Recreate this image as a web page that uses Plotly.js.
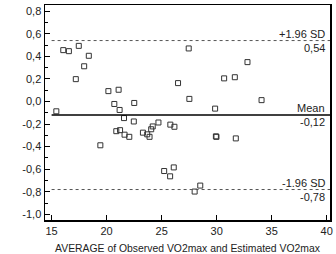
<!DOCTYPE html>
<html>
<head>
<meta charset="utf-8">
<script src="https://cdn.plot.ly/plotly-3.0.1.min.js"></script>
<style>
  html, body { margin: 0; padding: 0; background: #fff; }
  #chart { width: 336px; height: 254px; }
</style>
</head>
<body>
<div id="chart"></div>
<script>
// Bland-Altman plot: mean of the two methods vs. their difference
const avgVO2 = [
  15.43, 16.06, 16.57, 17.47, 18.38, 17.96, 17.20, 20.16, 21.09, 20.70,
  22.51, 21.18, 21.58, 22.47, 20.88, 21.22, 21.63, 22.06, 23.30, 19.43,
  24.71, 24.19, 24.05, 23.69, 23.90, 25.79, 26.16, 29.93, 31.74, 26.10,
  25.23, 25.77, 28.51, 28.00, 27.46, 26.49, 30.68, 31.65, 27.52, 29.86,
  32.80, 34.08, 29.98
];
const diffVO2 = [
  -0.087, 0.455, 0.446, 0.493, 0.405, 0.312, 0.198, 0.092, 0.104, -0.022,
  -0.013, -0.075, -0.147, -0.177, -0.263, -0.254, -0.294, -0.313, -0.276, -0.388,
  -0.186, -0.221, -0.246, -0.291, -0.313, -0.205, -0.224, -0.309, -0.327, -0.584,
  -0.616, -0.663, -0.745, -0.798, 0.470, 0.163, 0.205, 0.215, 0.023, -0.063,
  0.349, 0.012, -0.313
];

// Reference lines: mean difference and limits of agreement
const meanDiff = -0.12;
const upperLoA = 0.54;
const lowerLoA = -0.78;

const xTickVals = [15, 20, 25, 30, 35, 40];
const yTickVals = [0.8, 0.6, 0.4, 0.2, 0.0, -0.2, -0.4, -0.6, -0.8, -1.0];
const yTickText = ['0,8', '0,6', '0,4', '0,2', '0,0', '-0,2', '-0,4', '-0,6', '-0,8', '-1,0'];

const xRange = [14.4, 40.3];
const yRange = [-1.05, 0.855];

const fmt = v => v.toFixed(2).replace('.', ',');

const font = { family: 'Liberation Sans, Arial, sans-serif', size: 11, color: '#222' };
const titleFont = { family: 'Liberation Sans, Arial, sans-serif', size: 10.4, color: '#222' };

const trace = {
  x: avgVO2,
  y: diffVO2,
  type: 'scatter',
  mode: 'markers',
  marker: { symbol: 'square-open', size: 5, color: '#333', line: { width: 1, color: '#333' } },
  hoverinfo: 'x+y'
};

function hline(y, dash, width, color) {
  return {
    type: 'line', xref: 'x', yref: 'y',
    x0: xTickVals[0], x1: xRange[1], y0: y, y1: y,
    line: { color: color, width: width, dash: dash }
  };
}

function label(y, text, above) {
  return {
    xref: 'paper', yref: 'y', x: 1, y: y,
    xanchor: 'right', yanchor: above ? 'bottom' : 'top',
    xshift: -3, yshift: above ? -1 : 1,
    text: text, showarrow: false, font: font
  };
}

const layout = {
  width: 336, height: 254,
  margin: { l: 45, r: 6, t: 5, b: 34 },
  paper_bgcolor: '#fff', plot_bgcolor: '#fff',
  showlegend: false,
  font: font,
  xaxis: {
    range: xRange,
    tickmode: 'array', tickvals: xTickVals,
    ticks: 'inside', ticklen: 5, tickwidth: 1, tickcolor: '#000',
    showline: true, linecolor: '#000', linewidth: 1.5, mirror: true,
    showgrid: false, zeroline: false,
    tickfont: font,
    title: { text: 'AVERAGE of Observed VO2max and Estimated VO2max', font: titleFont, standoff: 9 }
  },
  yaxis: {
    range: yRange,
    tickmode: 'array', tickvals: yTickVals, ticktext: yTickText,
    ticks: 'inside', ticklen: 5, tickwidth: 1, tickcolor: '#000',
    minor: { tickmode: 'linear', tick0: 0, dtick: 0.1, ticks: 'inside', ticklen: 3, tickcolor: '#000', showgrid: false },
    showline: true, linecolor: '#000', linewidth: 1.5, mirror: true,
    showgrid: false, zeroline: false,
    tickfont: font
  },
  shapes: [
    hline(upperLoA, 'dot', 1, '#555'),
    hline(meanDiff, 'solid', 1.5, '#000'),
    hline(lowerLoA, 'dot', 1, '#555')
  ],
  annotations: [
    label(upperLoA, '+1.96 SD', true),
    label(upperLoA, fmt(upperLoA), false),
    label(meanDiff, 'Mean', true),
    label(meanDiff, fmt(meanDiff), false),
    label(lowerLoA, '-1.96 SD', true),
    label(lowerLoA, fmt(lowerLoA), false)
  ]
};

Plotly.newPlot('chart', [trace], layout, { displayModeBar: false, staticPlot: true });
</script>
</body>
</html>
